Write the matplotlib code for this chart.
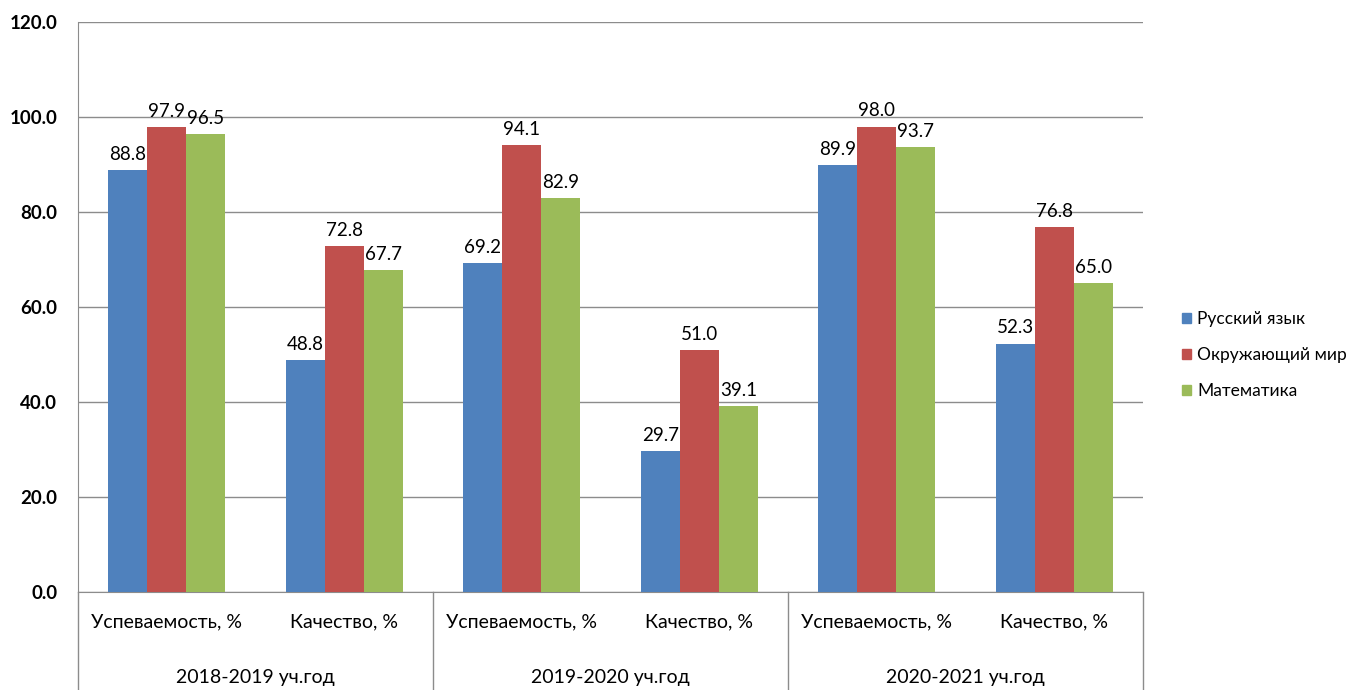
import numpy as np
import matplotlib.pyplot as plt
import matplotlib.transforms as mtransforms
from matplotlib.patches import Patch

plt.rcParams['font.family'] = ['Lato', 'DejaVu Sans']

# Data
years = ['2018-2019 уч.год', '2019-2020 уч.год', '2020-2021 уч.год']
metrics = ['Успеваемость, %', 'Качество, %']
series = ['Русский язык', 'Окружающий мир', 'Математика']
russian = [88.8, 48.8, 69.2, 29.7, 89.9, 52.3]
world = [97.9, 72.8, 94.1, 51.0, 98.0, 76.8]
math_ = [96.5, 67.7, 82.9, 39.1, 93.7, 65.0]
colors = ['#4F81BD', '#C0504D', '#9BBB59']

fig = plt.figure(figsize=(13.59, 6.90), dpi=100)
ax = fig.add_axes([78 / 1359, 1 - 592 / 690, 1065 / 1359, 570 / 690])

x = np.arange(len(russian))
w = 0.22
for i, (vals, c) in enumerate(zip([russian, world, math_], colors)):
    bars = ax.bar(x + (i - 1) * w, vals, width=w, color=c, zorder=3, label=series[i])
    for b, v in zip(bars, vals):
        ax.text(b.get_x() + b.get_width() / 2, v + 1.5, f'{v:.1f}',
                ha='center', va='bottom', fontsize=13.5)

ax.set_xlim(-0.5, 5.5)
ax.set_ylim(0, 120)
ax.set_yticks(np.arange(0, 121, 20))
ax.set_yticklabels([f'{t:.1f}' for t in np.arange(0, 121, 20)], fontsize=13.5,
                   fontweight='bold')
ax.yaxis.grid(True, color='#8c8c8c', linewidth=1)
ax.set_axisbelow(True)
ax.tick_params(axis='y', length=0, pad=15)
ax.tick_params(axis='x', length=0, labelbottom=False)
for s in ['top', 'right']:
    ax.spines[s].set_visible(False)
ax.spines['left'].set_color('#8c8c8c')
ax.spines['bottom'].set_color('#8c8c8c')

# two-level category axis
trans = mtransforms.blended_transform_factory(ax.transData, ax.transAxes)
bottom = -(690 - 592) / 570
for sep in [-0.5, 1.5, 3.5, 5.5]:
    ax.plot([sep, sep], [0, bottom], color='#8c8c8c', linewidth=1,
            transform=trans, clip_on=False)
for k in range(len(x)):
    ax.text(x[k], -30 / 570, metrics[k % 2], transform=trans,
            ha='center', va='center', fontsize=14)
for j, y in enumerate(years):
    ax.text(2 * j + 0.5, -86 / 570, y, transform=trans,
            ha='center', va='center', fontsize=14)

handles = [Patch(color=c, label=s) for c, s in zip(colors, series)]
fig.legend(handles=handles, loc='center left', bbox_to_anchor=(1166 / 1359, 1 - 355 / 690),
           frameon=False, prop={'size': 12.5},
           handlelength=0.55, handleheight=0.55, handletextpad=0.35, labelspacing=1.15)

fig.savefig('out.png', dpi=100)
